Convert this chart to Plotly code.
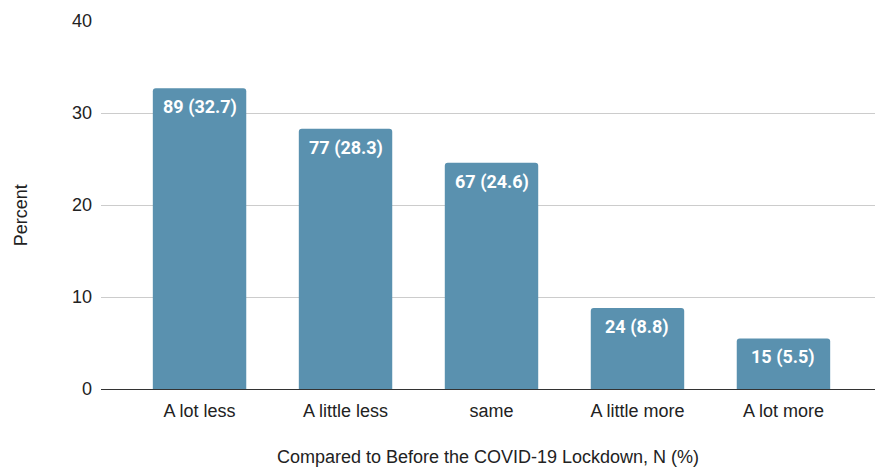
import plotly.graph_objects as go

categories = ["A lot less", "A little less", "same", "A little more", "A lot more"]
counts = [89, 77, 67, 24, 15]
percents = [32.7, 28.3, 24.6, 8.8, 5.5]
y_ticks = [0, 10, 20, 30, 40]

labels = [f"{n} ({p})" for n, p in zip(counts, percents)]

fig = go.Figure(
    go.Bar(
        x=categories,
        y=percents,
        marker=dict(color="#5a91af", line=dict(width=0)),
        width=0.64,
        hoverinfo="skip",
    )
)

# value labels sit just below the top of each bar
for cat, val, lab in zip(categories, percents, labels):
    fig.add_annotation(
        x=cat, y=val, text=lab, showarrow=False,
        yanchor="middle", yshift=-19,
        font=dict(family="Roboto", size=18, color="white", weight="bold"),
    )

# y-axis title
fig.add_annotation(
    x=-0.103, y=0.473, xref="paper", yref="paper",
    text="Percent", textangle=-90, showarrow=False,
    xanchor="center", yanchor="middle",
    font=dict(size=18, color="#222222"),
)

fig.update_layout(
    width=875,
    height=468,
    margin=dict(l=101, r=0, t=21, b=79),
    paper_bgcolor="white",
    plot_bgcolor="white",
    barcornerradius=3,
    showlegend=False,
    font=dict(family="Liberation Sans, Arial, sans-serif", size=18, color="#222222"),
)

fig.update_xaxes(
    range=[-0.675, 4.627],
    showgrid=False,
    showline=False,
    ticks="",
    ticklabelstandoff=9,
    tickfont=dict(size=18, color="#222222"),
    title=dict(text="Compared to Before the COVID-19 Lockdown, N (%)", standoff=30,
               font=dict(size=18, color="#222222")),
)

fig.update_yaxes(
    range=[0, 40],
    tickvals=y_ticks,
    showgrid=True,
    gridcolor="#cccccc",
    gridwidth=1,
    zeroline=True,
    zerolinecolor="#333333",
    zerolinewidth=1,
    showline=False,
    ticks="",
    ticklabelstandoff=8,
    tickfont=dict(size=18, color="#222222"),
)

fig.write_html("out.html")
